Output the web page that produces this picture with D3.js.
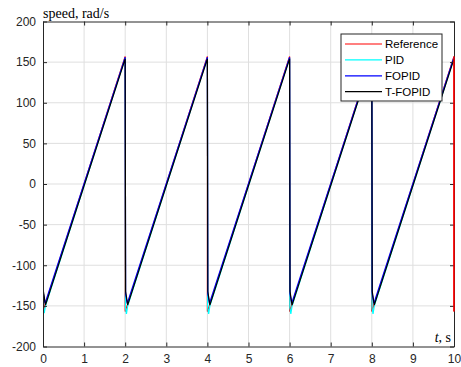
<!DOCTYPE html>
<html><head><meta charset="utf-8">
<script src="https://cdn.jsdelivr.net/npm/d3@7"></script>
<style>body{margin:0;background:#fff}svg{display:block}</style>
</head><body>
<svg id="c" width="461" height="367"></svg>
<script>
const xTicks = [0,1,2,3,4,5,6,7,8,9,10];
const yTicks = [-200,-150,-100,-50,0,50,100,150,200];
const seriesNames = ["Reference","PID","FOPID","T-FOPID"];
const seriesColors = ["#ff0000","#00ffff","#0000ff","#000000"];

const timeRef  = [0,2,2,4,4,6,6,8,8,10,10];
const speedRef = [-157,157,-157,157,-157,157,-157,157,-157,157,-157];

const timePID  = [0,0.005,0.03,0.06, 2,2.005,2.03,2.06, 4,4.005,4.03,4.06, 6,6.005,6.03,6.06, 8,8.005,8.03,8.06, 10];
const speedPID = [0,-150,-159,-150, 155,-152,-160,-150, 155,-152,-160,-150, 155,-152,-160,-150, 155,-152,-160,-150, 155];

const timeFOPID  = [0,0.01,0.05, 2,2.01,2.05, 4,4.01,4.05, 6,6.01,6.05, 8,8.01,8.05, 10];
const speedFOPID = [0,-135,-147, 156,-135,-147, 156,-135,-147, 156,-135,-147, 156,-135,-147, 156];

const timeTFOPID  = [0,0.01,0.06, 2,2.01,2.06, 4,4.01,4.06, 6,6.01,6.06, 8,8.01,8.06, 10];
const speedTFOPID = [0,-132,-149, 154,-132,-149, 154,-132,-149, 154,-132,-149, 154,-132,-149, 154];

const svg = d3.select("#c");
const L = 43, R = 454, T = 21.5, B = 346.5;
const x = d3.scaleLinear().domain([0,10]).range([L,R]);
const y = d3.scaleLinear().domain([-200,200]).range([B,T]);
const axisColor = "#262626";
const font = "'Liberation Sans', Arial, sans-serif";
const fmt = d => String(d);

// grid
const g = svg.append("g");
g.selectAll(".gx").data(xTicks.slice(1,-1)).enter().append("line")
  .attr("x1",d=>x(d)).attr("x2",d=>x(d)).attr("y1",T).attr("y2",B)
  .attr("stroke","#dfdfdf").attr("stroke-width",1);
g.selectAll(".gy").data(yTicks.slice(1,-1)).enter().append("line")
  .attr("y1",d=>y(d)).attr("y2",d=>y(d)).attr("x1",L).attr("x2",R)
  .attr("stroke","#dfdfdf").attr("stroke-width",1);

// clip
svg.append("clipPath").attr("id","clip").append("rect")
  .attr("x",L).attr("y",T).attr("width",R-L+1).attr("height",B-T);

const data = [
  [timeRef, speedRef],
  [timePID, speedPID],
  [timeFOPID, speedFOPID],
  [timeTFOPID, speedTFOPID]
];
const line = d3.line().x(d=>x(d[0])).y(d=>y(d[1]));
const lg = svg.append("g").attr("clip-path","url(#clip)");
data.forEach((s,i)=>{
  const pts = s[0].map((t,j)=>[t, s[1][j]]);
  lg.append("path").attr("d",line(pts)).attr("fill","none")
    .attr("stroke",seriesColors[i]).attr("stroke-width",1.2)
    .attr("stroke-linejoin","miter");
});

// axes
const ax = svg.append("g");
ax.append("g").attr("transform",`translate(0,${B})`)
  .call(d3.axisBottom(x).tickValues(xTicks).tickFormat(fmt).tickSizeInner(-4).tickSizeOuter(0).tickPadding(8))
  .call(a=>{a.select(".domain").attr("stroke",axisColor);a.selectAll("line").attr("stroke",axisColor);
    a.selectAll("text").attr("fill",axisColor).style("font-family",font).style("font-size","12px");});
ax.append("g").attr("transform",`translate(0,${T})`)
  .call(d3.axisTop(x).tickValues(xTicks).tickSizeInner(-4).tickSizeOuter(0).tickFormat(""))
  .call(a=>{a.select(".domain").attr("stroke",axisColor);a.selectAll("line").attr("stroke",axisColor);});
ax.append("g").attr("transform",`translate(${L},0)`)
  .call(d3.axisLeft(y).tickValues(yTicks).tickFormat(fmt).tickSizeInner(-4).tickSizeOuter(0).tickPadding(7))
  .call(a=>{a.select(".domain").attr("stroke",axisColor);a.selectAll("line").attr("stroke",axisColor);
    a.selectAll("text").attr("fill",axisColor).style("font-family",font).style("font-size","12px");});
ax.append("g").attr("transform",`translate(${R},0)`)
  .call(d3.axisRight(y).tickValues(yTicks).tickSizeInner(-4).tickSizeOuter(0).tickFormat(""))
  .call(a=>{a.select(".domain").attr("stroke",axisColor);a.selectAll("line").attr("stroke",axisColor);});

// reference's final vertical drawn on top of the right axis
svg.append("line").attr("x1",x(10)).attr("x2",x(10))
  .attr("y1",y(speedRef[speedRef.length-2])).attr("y2",y(speedRef[speedRef.length-1]))
  .attr("stroke",seriesColors[0]).attr("stroke-width",1.5);

// labels
svg.append("text").attr("x",L).attr("y",18).text("speed, rad/s")
  .style("font-family","'Liberation Serif', 'Times New Roman', serif").style("font-size","14px").attr("fill","#000");
const tl = svg.append("text").attr("x",R-3).attr("y",B-5).attr("text-anchor","end")
  .style("font-family","'Liberation Serif', 'Times New Roman', serif").style("font-size","14px").attr("fill","#000");
tl.append("tspan").style("font-style","italic").text("t");
tl.append("tspan").text(", s");

// legend
const lgX = 341, lgY = 34, lgW = 101, lgH = 67;
const leg = svg.append("g");
leg.append("rect").attr("x",lgX).attr("y",lgY).attr("width",lgW).attr("height",lgH)
  .attr("fill","#fff").attr("stroke","#262626").attr("stroke-width",1);
seriesNames.forEach((n,i)=>{
  const yy = lgY + 10 + i*15.9;
  leg.append("line").attr("x1",lgX+4).attr("x2",lgX+41).attr("y1",yy).attr("y2",yy)
    .attr("stroke",seriesColors[i]).attr("stroke-width",1.2);
  leg.append("text").attr("x",lgX+44).attr("y",yy+4).text(n)
    .style("font-family",font).style("font-size","11.5px").attr("fill","#000");
});
</script>
</body></html>
